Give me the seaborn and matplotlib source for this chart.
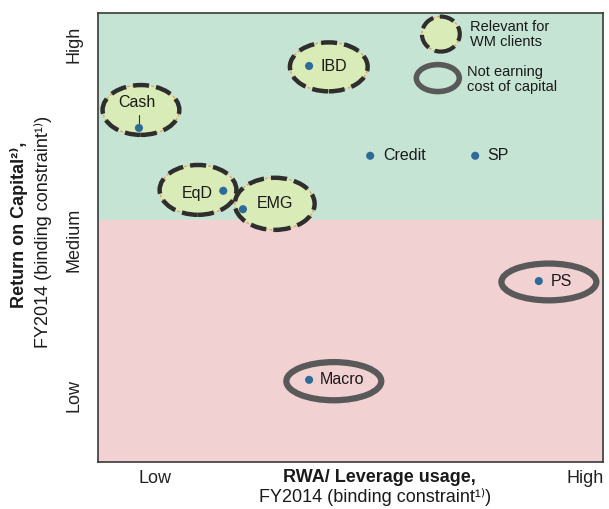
import matplotlib.pyplot as plt
import matplotlib.patches as mpatches
import seaborn as sns
import pandas as pd

# Segmentos e posições (escala 0-10 nos dois eixos)
segmentos = ["Cash", "IBD", "Credit", "SP", "EqD", "EMG", "PS", "Macro"]
rwa = [0.81, 4.18, 5.39, 7.47, 2.48, 2.87, 8.73, 4.18]
retorno = [7.44, 8.82, 6.82, 6.82, 6.04, 5.63, 4.03, 1.83]

# Posição dos rótulos de cada segmento
rotulo_x = [0.77, 4.40, 5.64, 7.70, 1.96, 3.15, 8.97, 4.40]
rotulo_y = [8.00, 8.80, 6.82, 6.82, 5.99, 5.75, 4.03, 1.83]
rotulo_ha = ["center", "left", "left", "left", "center", "left", "left", "left"]

# Elipses "Relevant for WM clients" (centro x, centro y, largura, altura)
wm_segmentos = ["Cash", "EqD", "EMG", "IBD"]
wm_cx = [0.85, 1.98, 3.50, 4.57]
wm_cy = [7.84, 6.06, 5.75, 8.80]
wm_w = [1.52, 1.52, 1.58, 1.54]
wm_h = [1.11, 1.11, 1.16, 1.09]

# Elipses "Not earning cost of capital"
custo_segmentos = ["PS", "Macro"]
custo_cx = [8.93, 4.67]
custo_cy = [4.01, 1.80]
custo_w = [1.88, 1.88]
custo_h = [0.82, 0.85]

limite_medio = 5.39
ytick_pos = [1.49, 4.94, 9.29]
ytick_lab = ["Low", "Medium", "High"]
xtick_pos = [1.13, 9.64]
xtick_lab = ["Low", "High"]

df = pd.DataFrame({"segmento": segmentos, "rwa": rwa, "retorno": retorno})

sns.set_theme(style="white")
plt.rcParams['font.family'] = ['Liberation Sans', 'DejaVu Sans']

fig = plt.figure(figsize=(6.09, 5.09), dpi=100)
ax = fig.add_axes([0.161, 0.0923, 0.829, 0.8822])
ax.set_xlim(0, 10)
ax.set_ylim(0, 10)

ax.axhspan(limite_medio, 10, color="#c6e4d4", zorder=0)
ax.axhspan(0, limite_medio, color="#f1d1d2", zorder=0)

cor_escura = "#2e2e2e"
cor_laranja = "#e3a262"
cor_fill = "#d9ebb7"
cor_cinza = "#595959"


def elipse_wm(cx, cy, w, h, lw=3.2):
    ax.add_patch(mpatches.Ellipse((cx, cy), w, h, facecolor=cor_fill,
                                  edgecolor=cor_laranja, lw=1.0,
                                  linestyle=(0, (2, 1.5)), zorder=2))
    ax.add_patch(mpatches.Ellipse((cx, cy), w, h, facecolor="none",
                                  edgecolor=cor_escura, lw=lw,
                                  linestyle=(0, (3.6, 1.6)), zorder=3))


def elipse_custo(cx, cy, w, h, lw=4.5):
    ax.add_patch(mpatches.Ellipse((cx, cy), w, h, facecolor="none",
                                  edgecolor=cor_cinza, lw=lw, zorder=3))


for i in range(len(wm_segmentos)):
    elipse_wm(wm_cx[i], wm_cy[i], wm_w[i], wm_h[i])
for i in range(len(custo_segmentos)):
    elipse_custo(custo_cx[i], custo_cy[i], custo_w[i], custo_h[i])

sns.scatterplot(data=df, x="rwa", y="retorno", color="#2e6b9a", s=34,
                edgecolor="none", zorder=4, ax=ax, legend=False)

for i, seg in enumerate(segmentos):
    ax.text(rotulo_x[i], rotulo_y[i], seg, ha=rotulo_ha[i], va="center",
            fontsize=11.5, color="#1a1a1a", zorder=5)

# pequeno traço entre o ponto e o rótulo "Cash"
ax.plot([0.81, 0.81], [7.55, 7.72], color="#333333", lw=0.8, zorder=4)

# Legenda manual
elipse_wm(6.79, 9.53, 0.75, 0.78, lw=3.0)
elipse_custo(6.73, 8.55, 0.85, 0.60, lw=4.0)
ax.text(7.37, 9.53, "Relevant for\nWM clients", ha="left", va="center",
        fontsize=10.5, linespacing=1.1, color="#1a1a1a")
ax.text(7.31, 8.51, "Not earning\ncost of capital", ha="left", va="center",
        fontsize=10.5, linespacing=1.1, color="#1a1a1a")

ax.set_xticks(xtick_pos)
ax.set_xticklabels(xtick_lab, fontsize=13, color="#222222")
ax.set_yticks(ytick_pos)
ax.set_yticklabels(ytick_lab, fontsize=13, rotation=90, va="center",
                   color="#222222")
ax.tick_params(axis="x", length=0, pad=6)
ax.tick_params(axis="y", length=0, pad=11)
ax.set_xlabel("")
ax.set_ylabel("")
for sp in ax.spines.values():
    sp.set_color("#3a3a3a")
    sp.set_linewidth(1.2)

# Títulos dos eixos
fig.text(283 / 609, 1 - 478 / 509, "RWA/ Leverage usage,", ha="left",
         va="center", fontsize=13, fontweight="bold", color="#1a1a1a")
fig.text(259 / 609, 1 - 497 / 509, "FY2014 (binding constraint¹⁾)", ha="left",
         va="center", fontsize=13, color="#1a1a1a")
fig.text(19 / 609, 1 - 308 / 509, "Return on Capital²⁾,", ha="left",
         va="center", fontsize=13, fontweight="bold", rotation=90,
         rotation_mode="anchor", color="#1a1a1a")
fig.text(43 / 609, 1 - 348 / 509, "FY2014 (binding constraint¹⁾)", ha="left",
         va="center", fontsize=13, rotation=90, rotation_mode="anchor",
         color="#1a1a1a")

fig.savefig("out.png", dpi=100, facecolor="white")
